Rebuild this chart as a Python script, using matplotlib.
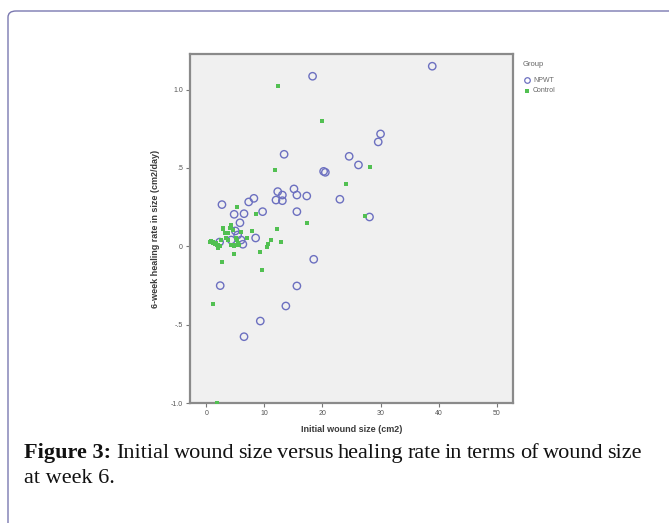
import matplotlib
matplotlib.use("Agg")
import matplotlib.pyplot as plt
from matplotlib.patches import FancyBboxPatch
from matplotlib.lines import Line2D

# NPWT group (hollow circles)
npwt_size = [38.9, 18.3, 30.0, 29.6, 13.4, 24.6, 26.2, 20.2, 20.5, 15.1,
             12.3, 13.1, 15.6, 17.3, 23.0, 8.2, 7.3, 12.0, 13.1, 2.7,
             4.8, 6.5, 9.7, 15.6, 28.1, 5.8, 5.0, 5.4, 6.0, 4.3,
             6.3, 8.5, 2.3, 18.5, 2.4, 15.6, 13.7, 9.3, 6.5]
npwt_rate = [1.149, 1.085, 0.717, 0.666, 0.587, 0.574, 0.519, 0.478, 0.472, 0.366,
             0.349, 0.327, 0.327, 0.321, 0.300, 0.306, 0.283, 0.295, 0.291, 0.266,
             0.204, 0.208, 0.221, 0.221, 0.187, 0.150, 0.098, 0.072, 0.040, 0.040,
             0.013, 0.053, 0.027, -0.083, -0.251, -0.253, -0.381, -0.477, -0.577]

# Control group (small green marks)
control_size = [12.3, 20.0, 28.2, 11.8, 24.0, 5.3, 8.5, 27.3, 17.3, 12.2,
                7.9, 7.0, 11.1, 12.9, 10.7, 10.4, 9.3, 4.8, 2.7, 9.6,
                1.2, 1.9,
                0.6, 0.8, 1.1, 1.2, 1.5, 1.7, 1.8, 2.0, 2.0, 2.3,
                2.6, 2.8, 2.8, 3.2, 3.4, 3.7, 3.8, 4.1, 4.3, 4.3,
                4.6, 4.3, 4.8, 4.9, 5.1, 5.3, 5.5, 5.7, 6.0]
control_rate = [1.025, 0.80, 0.506, 0.487, 0.398, 0.249, 0.204, 0.193, 0.151, 0.108,
                0.096, 0.051, 0.040, 0.025, 0.013, -0.003, -0.034, -0.051, -0.100, -0.151,
                -0.368, -1.0,
                0.030, 0.034, 0.029, 0.019, 0.012, 0.019, 0.008, -0.013, 0.008, 0.000,
                0.040, 0.115, 0.108, 0.083, 0.051, 0.083, 0.040, 0.115, 0.138, 0.125,
                0.104, 0.008, 0.000, 0.008, 0.051, 0.040, 0.019, 0.008, 0.093]

x_ticks = [0, 10, 20, 30, 40, 50]
y_ticks = [-1.0, -0.5, 0.0, 0.5, 1.0]
y_tick_labels = ["-1.0", "-.5", "0", ".5", "1.0"]

npwt_color = "#6c70c0"
control_color = "#52c052"
text_color = "#3a3a3a"
sans = "Liberation Sans"

W, H = 669, 523
fig = plt.figure(figsize=(W / 100, H / 100), dpi=100)
fig.patch.set_facecolor("white")

# rounded frame around the figure panel
frame = FancyBboxPatch((8 / W, -0.05), 1.2, (H - 11) / H + 0.05,
                       boxstyle="round,pad=0,rounding_size=0.012",
                       transform=fig.transFigure, facecolor="none",
                       edgecolor="#7a78b0", linewidth=1.0, clip_on=False)
fig.patches.append(frame)

ax = fig.add_axes([190 / W, 1 - 403 / H, 323 / W, 349 / H])
ax.set_facecolor("#f0f0f0")
for s in ax.spines.values():
    s.set_color("#8a8a8a")
    s.set_linewidth(1.6)

ax.scatter(npwt_size, npwt_rate, s=28, facecolors="none", edgecolors=npwt_color,
           linewidths=1.0, zorder=3)
ax.scatter(control_size, control_rate, s=6, marker="s", color=control_color,
           linewidths=0, zorder=4)

ax.set_xlim(-2.8, 52.8)
ax.set_ylim(-1.0, 1.227)
ax.set_xticks(x_ticks)
ax.set_yticks(y_ticks)
ax.set_yticklabels(y_tick_labels)
ax.tick_params(direction="out", length=3, width=0.8, color="#777777",
               labelsize=5, labelcolor="#555555", pad=2)
for lab in ax.get_xticklabels() + ax.get_yticklabels():
    lab.set_family(sans)

ax.set_xlabel("Initial wound size (cm2)", fontsize=6.5, fontweight="bold",
              family=sans, color=text_color, labelpad=6)
ax.set_ylabel("6-week healing rate in size (cm2/day)", fontsize=6.5,
              fontweight="bold", family=sans, color=text_color, labelpad=8)

# legend
fig.text(523 / W, 1 - 64 / H, "Group", fontsize=5.5, family=sans,
         color="#666666", va="center")
fig.lines.append(Line2D([527 / W], [1 - 80 / H], marker="o", markersize=4,
                        markerfacecolor="none", markeredgecolor=npwt_color,
                        markeredgewidth=0.9, transform=fig.transFigure))
fig.text(533 / W, 1 - 80 / H, "NPWT", fontsize=5, family=sans,
         color="#666666", va="center")
fig.lines.append(Line2D([527 / W], [1 - 91 / H], marker="s", markersize=2.5,
                        color=control_color, markeredgewidth=0,
                        transform=fig.transFigure))
fig.text(533 / W, 1 - 91 / H, "Control", fontsize=5, family=sans,
         color="#666666", va="center")

# caption (first line justified to the right margin)
serif = "Liberation Serif"
cap_fs = 16
cap_y1 = 1 - 458 / H
cap_y2 = 1 - 483 / H
bold = fig.text(24 / W, cap_y1, "Figure 3:", fontsize=cap_fs, family=serif,
                fontweight="bold", va="baseline", color="#111111")
renderer = fig.canvas.get_renderer()
bb = bold.get_window_extent(renderer)
rest = "Initial wound size versus healing rate in terms of wound size"
words = rest.split(" ")
word_objs = [fig.text(0, cap_y1, w, fontsize=cap_fs, family=serif,
                      va="baseline", color="#111111") for w in words]
widths = [t.get_window_extent(renderer).width for t in word_objs]
start = bb.x1 + 5
end = 642
gap = (end - start - sum(widths)) / (len(words) - 1)
xpos = start
for t, w in zip(word_objs, widths):
    t.set_x(xpos / W)
    xpos += w + gap
fig.text(24 / W, cap_y2, "at week 6.", fontsize=cap_fs, family=serif,
         va="baseline", color="#111111")

fig.savefig("out.png", dpi=100)
plt.close(fig)
